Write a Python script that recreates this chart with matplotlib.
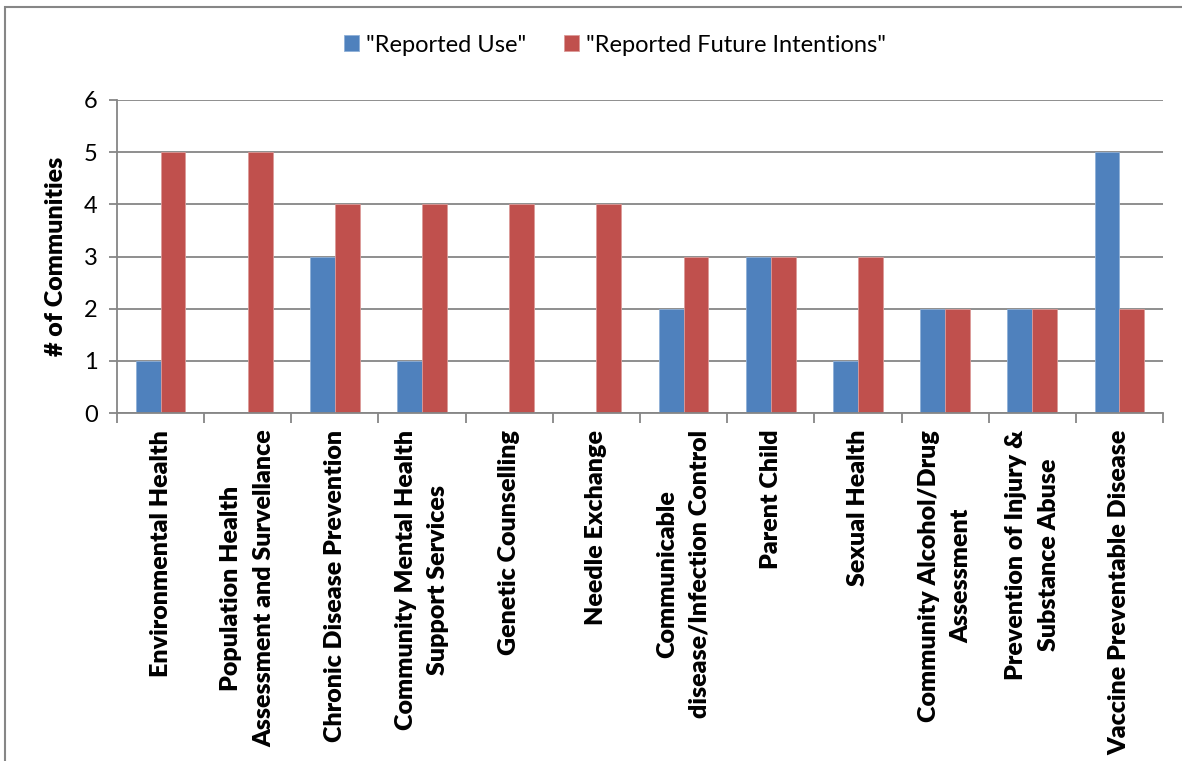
import matplotlib
matplotlib.use("Agg")
import matplotlib.pyplot as plt
import numpy as np
from matplotlib.patches import Rectangle

# chart data
categories = [
    "Environmental Health",
    "Population Health\nAssessment and Survellance",
    "Chronic Disease Prevention",
    "Community Mental Health\nSupport Services",
    "Genetic Counselling",
    "Needle Exchange",
    "Communicable\ndisease/Infection Control",
    "Parent Child",
    "Sexual Health",
    "Community Alcohol/Drug\nAssessment",
    "Prevention of Injury &\nSubstance Abuse",
    "Vaccine Preventable Disease",
]
reported_use = [1, 0, 3, 1, 0, 0, 2, 3, 1, 2, 2, 5]
future_intentions = [5, 5, 4, 4, 4, 4, 3, 3, 3, 2, 2, 2]
series_names = ['"Reported Use"', '"Reported Future Intentions"']
y_ticks = [0, 1, 2, 3, 4, 5, 6]

plt.rcParams["font.family"] = ["Lato", "DejaVu Sans"]
grey = "#868686"
blue = "#4F81BD"
red = "#C0504D"

fig = plt.figure(figsize=(11.82, 7.61), dpi=100)
ax = fig.add_axes([117 / 1182, 1 - 413 / 761, (1163 - 117) / 1182, (413 - 100) / 761])

x = np.arange(len(categories))
w = 1 / 3.5  # excel gap width 150%
ax.bar(x - w / 2, reported_use, w, color=blue, edgecolor="#8fb0d8", linewidth=0.6, label=series_names[0])
ax.bar(x + w / 2, future_intentions, w, color=red, edgecolor="#dc9a98", linewidth=0.6, label=series_names[1])

ax.set_xlim(-0.5, len(categories) - 0.5)
ax.set_ylim(0, 6)
ax.set_yticks(y_ticks)
ax.set_yticklabels([str(t) for t in y_ticks], fontsize=17)
ax.yaxis.grid(True, color=grey, linewidth=1.3)
ax.set_axisbelow(True)

# category labels at centres, tick marks at boundaries
ax.set_xticks(x)
ax.set_xticklabels(categories, rotation=90, fontsize=18, fontweight="heavy",
                   ha="center", va="top", multialignment="center", linespacing=1.6)
ax.tick_params(axis="x", which="major", length=0, pad=12)
ax.set_xticks(np.arange(len(categories) + 1) - 0.5, minor=True)
ax.tick_params(axis="x", which="minor", length=7.5, width=1.3, color=grey)
ax.tick_params(axis="y", length=6, width=1.3, color=grey, pad=8)

for s in ["top", "right"]:
    ax.spines[s].set_visible(False)
for s in ["left", "bottom"]:
    ax.spines[s].set_color(grey)
    ax.spines[s].set_linewidth(1.3)

ax.set_ylabel("# of Communities", fontsize=18, fontweight="heavy", labelpad=12)

fig.legend(loc="center", bbox_to_anchor=(615 / 1182, 1 - 45 / 761), ncol=2,
           frameon=False, fontsize=17, handlelength=0.65, handleheight=0.65,
           handletextpad=0.3, columnspacing=1.6)

# chart border, cut off on the right and bottom
fig.patches.append(Rectangle((5 / 1182, -0.05), 1.1, 1 - 7 / 761 + 0.05,
                             transform=fig.transFigure, fill=False,
                             edgecolor=grey, linewidth=1.5))
# clipped title above the chart
fig.text(337 / 1182, 1.012, "y", fontsize=20, ha="center", va="baseline")

fig.savefig("out.png", dpi=100)
